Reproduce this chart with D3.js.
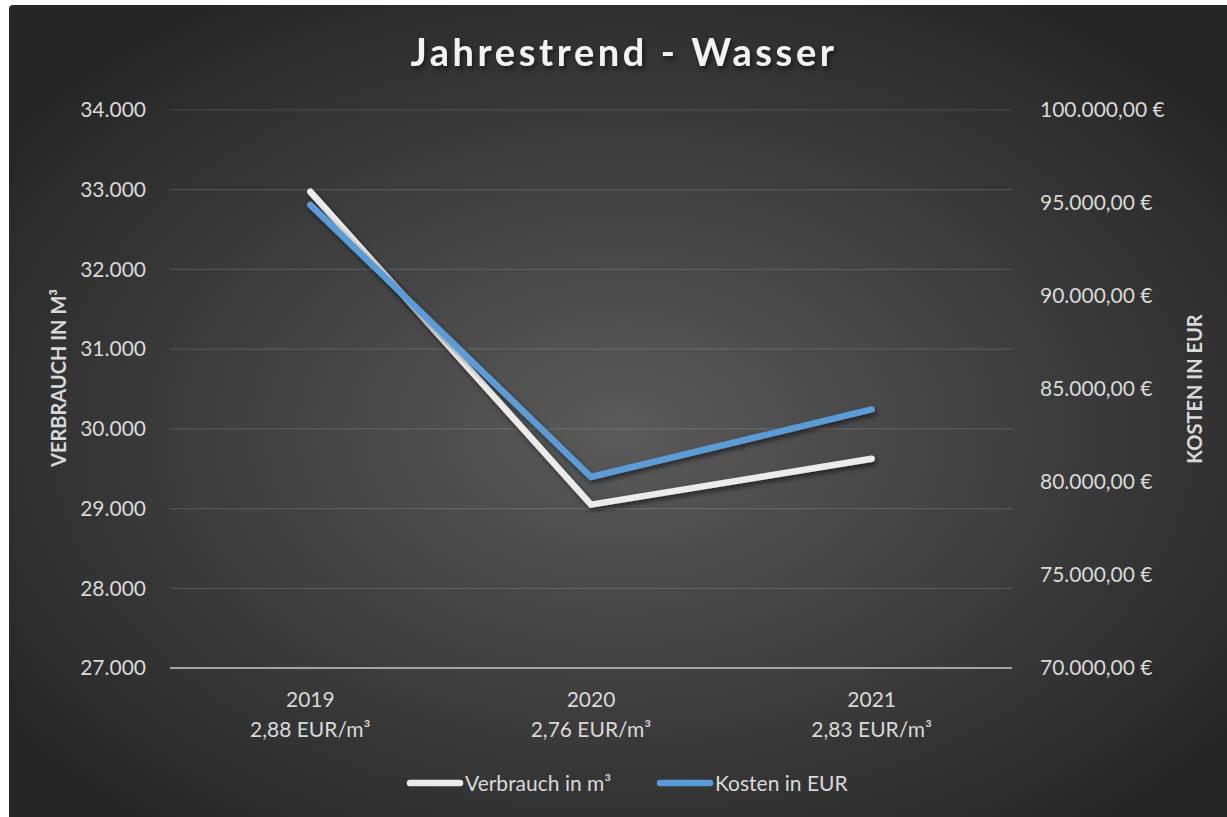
<!DOCTYPE html>
<html>
<head>
<meta charset="utf-8">
<script src="https://cdn.jsdelivr.net/npm/d3@7"></script>
<style>
  body { margin: 0; background: #fff; }
  text { font-family: Lato, "Open Sans", sans-serif; }
</style>
</head>
<body>
<script>
  const years = ["2019", "2020", "2021"];
  const priceLabels = ["2,88 EUR/m³", "2,76 EUR/m³", "2,83 EUR/m³"];
  const verbrauch = [32975, 29050, 29625];
  const kosten = [94900, 80270, 83900];
  const leftTicks = [27000, 28000, 29000, 30000, 31000, 32000, 33000, 34000];
  const rightTicks = [70000, 75000, 80000, 85000, 90000, 95000, 100000];

  const W = 1227, H = 817;
  const margin = {top: 110, bottom: 149, left: 170, right: 215};
  const width = W - margin.left - margin.right;
  const height = H - margin.top - margin.bottom;

  const de = d3.formatLocale({decimal: ",", thousands: ".", grouping: [3], currency: ["", " €"]});
  const fmtL = de.format(",.0f");
  const fmtR = de.format("$,.2f");

  const svg = d3.select('body')
    .append('svg')
    .attr('width', W)
    .attr('height', H);

  const defs = svg.append('defs');
  const grad = defs.append('radialGradient')
    .attr('id', 'bg')
    .attr('cx', '50%').attr('cy', '52%').attr('r', '62%');
  grad.append('stop').attr('offset', '0%').attr('stop-color', '#5a5a5a');
  grad.append('stop').attr('offset', '100%').attr('stop-color', '#262626');

  const shadow = defs.append('filter').attr('id', 'shadow')
    .attr('x', '-10%').attr('y', '-10%').attr('width', '120%').attr('height', '130%');
  shadow.append('feDropShadow')
    .attr('dx', 2).attr('dy', 3).attr('stdDeviation', 2.5)
    .attr('flood-color', '#000').attr('flood-opacity', 0.55);

  svg.append('rect')
    .attr('x', 9).attr('y', 5)
    .attr('width', W).attr('height', H)
    .attr('rx', 4)
    .attr('fill', 'url(#bg)');

  const g = svg.append('g')
    .attr('transform', 'translate(' + margin.left + ',' + margin.top + ')');

  let x = d3.scaleBand()
    .range([0, width])
    .domain(years)
    .padding(0);

  let yL = d3.scaleLinear()
    .range([height, 0])
    .domain([27000, 34000]);

  let yR = d3.scaleLinear()
    .range([height, 0])
    .domain([70000, 100000]);

  // grid lines
  g.append('g')
    .selectAll('line')
    .data(leftTicks.slice(1))
    .enter().append('line')
      .attr('x1', 0).attr('x2', width)
      .attr('y1', d => yL(d)).attr('y2', d => yL(d))
      .attr('stroke', '#ffffff')
      .attr('stroke-opacity', 0.13)
      .attr('stroke-width', 1.2);

  // bottom axis line
  g.append('line')
    .attr('x1', 0).attr('x2', width)
    .attr('y1', yL(27000)).attr('y2', yL(27000))
    .attr('stroke', '#a3a3a3')
    .attr('stroke-width', 2);

  // left axis
  const axL = g.append('g')
    .call(d3.axisLeft(yL).tickValues(leftTicks).tickFormat(fmtL).tickSize(0).tickPadding(24));
  axL.select('.domain').remove();
  axL.selectAll('text')
    .attr('fill', '#d9d9d9')
    .attr('font-size', '21px')
    .style('font-family', 'Lato, sans-serif');

  // right axis
  const axR = g.append('g')
    .attr('transform', 'translate(' + width + ',0)')
    .call(d3.axisRight(yR).tickValues(rightTicks).tickFormat(fmtR).tickSize(0).tickPadding(28));
  axR.select('.domain').remove();
  axR.selectAll('text')
    .attr('fill', '#d9d9d9')
    .attr('font-size', '21px')
    .style('font-family', 'Lato, sans-serif');

  // x axis labels
  const xl = g.append('g').selectAll('text')
    .data(years)
    .enter().append('text')
      .attr('x', d => x(d) + x.bandwidth() / 2)
      .attr('y', height + 39)
      .attr('text-anchor', 'middle')
      .attr('fill', '#d9d9d9')
      .attr('font-size', '21px');
  xl.append('tspan').text(d => d);
  xl.append('tspan')
    .attr('x', d => x(d) + x.bandwidth() / 2)
    .attr('dy', 30)
    .text((d, i) => priceLabels[i]);

  // lines
  const lineL = d3.line()
    .x((d, i) => x(years[i]) + x.bandwidth() / 2)
    .y(d => yL(d));
  const lineR = d3.line()
    .x((d, i) => x(years[i]) + x.bandwidth() / 2)
    .y(d => yR(d));

  g.append('path')
    .attr('d', lineL(verbrauch))
    .attr('fill', 'none')
    .attr('stroke', '#ebebeb')
    .attr('stroke-width', 6.5)
    .attr('stroke-linecap', 'round')
    .attr('stroke-linejoin', 'miter')
    .attr('filter', 'url(#shadow)');

  g.append('path')
    .attr('d', lineR(kosten))
    .attr('fill', 'none')
    .attr('stroke', '#5b9bd5')
    .attr('stroke-width', 6.5)
    .attr('stroke-linecap', 'round')
    .attr('stroke-linejoin', 'miter')
    .attr('filter', 'url(#shadow)');

  // title
  svg.append('text')
    .attr('x', 624)
    .attr('y', 66)
    .attr('text-anchor', 'middle')
    .attr('fill', '#f2f2f2')
    .attr('font-size', '38px')
    .attr('font-weight', 'bold')
    .attr('letter-spacing', '3.6px')
    .attr('filter', 'url(#shadow)')
    .text('Jahrestrend - Wasser');

  // axis titles
  svg.append('text')
    .attr('transform', 'translate(66,' + 378 + ') rotate(-90)')
    .attr('text-anchor', 'middle')
    .attr('fill', '#d9d9d9')
    .attr('font-size', '20px')
    .attr('font-weight', 'bold')
    .text('VERBRAUCH IN M³');

  svg.append('text')
    .attr('transform', 'translate(1202,' + 389 + ') rotate(-90)')
    .attr('text-anchor', 'middle')
    .attr('fill', '#d9d9d9')
    .attr('font-size', '20px')
    .attr('font-weight', 'bold')
    .text('KOSTEN IN EUR');

  // legend
  const legend = [
    {name: 'Verbrauch in m³', color: '#ebebeb', x: 410},
    {name: 'Kosten in EUR', color: '#5b9bd5', x: 660}
  ];
  const lg = svg.append('g').selectAll('g')
    .data(legend)
    .enter().append('g')
      .attr('transform', d => 'translate(' + d.x + ',783)');
  lg.append('line')
    .attr('x1', 0).attr('x2', 50)
    .attr('stroke', d => d.color)
    .attr('stroke-width', 6.5)
    .attr('stroke-linecap', 'round');
  lg.append('text')
    .attr('x', 55)
    .attr('y', 8)
    .attr('fill', '#d9d9d9')
    .attr('font-size', '21px')
    .text(d => d.name);
</script>
</body>
</html>
